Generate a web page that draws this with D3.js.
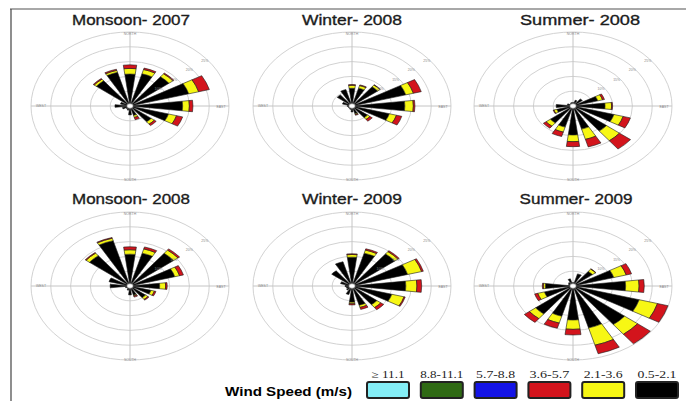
<!DOCTYPE html>
<html>
<head>
<meta charset="utf-8">
<script src="https://cdn.jsdelivr.net/npm/d3@7"></script>
<style>
  body { margin: 0; background: #fff; }
  svg { display: block; }
</style>
</head>
<body>
<svg width="686" height="401"></svg>
<script>
const w = 686;
const h = 401;

// compass sectors, clockwise from north
const directions = ["N", "NNE", "NE", "ENE", "E", "ESE", "SE", "SSE",
                    "S", "SSW", "SW", "WSW", "W", "WNW", "NW", "NNW"];

// legend order (high to low), petal stacking goes the other way
const speedBins = ["\u2265 11.1", "8.8-11.1", "5.7-8.8", "3.6-5.7", "2.1-3.6", "0.5-2.1"];
const binColors = ["#84eef6", "#2f6a14", "#1414e6", "#d3141c", "#f7f714", "#000000"];

const titles = ["Monsoon- 2007", "Winter- 2008", "Summer- 2008",
                "Monsoon- 2008", "Winter- 2009", "Summer- 2009"];

const ringTicks = [5, 10, 15, 20, 25];

// frequency (%) per sector, rows: 0.5-2.1, 2.1-3.6, 3.6-5.7 m/s
const monsoon2007 = [
  [10.8, 11.3, 12.5, 15.4, 13.3, 10.1, 6.8, 3.3, 3.0, 1.5, 1.2, 2.0, 3.8, 2.5, 10.8, 11.8],
  [1.9, 1.5, 1.3, 2.6, 1.7, 2.1, 1.0, 0.7, 0, 0, 0, 0, 0, 0, 0.7, 0.7],
  [1.2, 0.5, 0.3, 2.8, 0.9, 1.6, 0.6, 0.8, 0, 0, 0, 0, 0, 0, 0.3, 0.4]
];
const winter2008 = [
  [6.0, 6.25, 8.25, 14.1, 13.35, 9.8, 5.0, 2.75, 2.0, 1.2, 1.0, 1.0, 1.2, 2.5, 4.75, 5.75],
  [1.0, 0.9, 0.75, 2.0, 2.15, 1.85, 0.75, 0.25, 0, 0, 0, 0, 0, 0, 0, 0],
  [0.25, 0.25, 0.1, 2.05, 0.4, 1.4, 0.75, 0.25, 0, 0, 0, 0, 0, 0, 0, 0]
];
const summer2008 = [
  [1.2, 2.0, 3.0, 6.5, 8.1, 10.75, 10.75, 8.1, 9.8, 7.4, 7.25, 4.25, 4.25, 1.5, 1.0, 1.2],
  [0, 0, 0, 1.25, 1.65, 2.4, 4.15, 3.6, 2.25, 1.75, 1.4, 0.75, 0, 0, 0, 0],
  [0, 0, 0, 0.5, 0.25, 1.9, 3.55, 2.65, 1.7, 1.55, 0.85, 0.2, 0, 0, 0, 0]
];
const monsoon2008 = [
  [10.75, 11.5, 14.0, 11.75, 7.5, 5.5, 5.0, 3.25, 3.0, 1.5, 1.0, 1.2, 5.0, 5.5, 13.0, 15.9],
  [1.5, 1.5, 1.4, 1.25, 1.5, 0.9, 0.75, 0.25, 0, 0, 0, 0, 0, 0, 1.1, 0.85],
  [1.0, 0.7, 0.5, 1.0, 0.4, 0.4, 0.3, 0.4, 0, 0, 0, 0, 0, 0, 0.25, 0.25]
];
const winter2009 = [
  [9.75, 11.5, 13.75, 14.6, 13.6, 10.45, 8.0, 6.75, 5.5, 3.0, 1.75, 1.5, 1.75, 3.0, 6.5, 8.5],
  [0.9, 1.1, 1.0, 3.65, 2.8, 3.2, 1.25, 0.75, 0.5, 0, 0, 0, 0, 0, 0, 0],
  [0.25, 0.45, 0.4, 0.45, 1.2, 0.3, 0.9, 0.7, 0.4, 0, 0, 0, 0, 0, 0, 0]
];
const summer2009 = [
  [1.2, 4.25, 6.25, 10.7, 13.3, 17.35, 16.55, 14.7, 11.5, 10.6, 12.0, 7.5, 7.0, 1.2, 1.5, 2.5],
  [0, 0, 1.0, 3.25, 3.4, 4.8, 4.15, 6.05, 3.15, 2.4, 2.0, 1.75, 0.5, 0, 0, 0],
  [0, 0, 0.1, 1.4, 1.3, 2.75, 4.1, 3.0, 1.9, 1.8, 1.6, 0.8, 0.25, 0, 0, 0]
];

const panels = [monsoon2007, winter2008, summer2008, monsoon2008, winter2009, summer2009];

// layout
const centersX = [130, 352, 573];
const centersY = [106, 286];
const titleX = [131, 352, 580, 131, 352, 576];
const titleW = [118, 100, 120, 118, 100, 113];
const binLabelW = [33, 43, 39, 40, 39, 39];
const rx = 99;
const ry = 74;
const halfWidth = 7 * Math.PI / 180;

const svg = d3.select("svg");

// frame
svg.append("line").attr("x1", 10).attr("x2", w).attr("y1", 9).attr("y2", 9)
  .attr("stroke", "#a8a8a8").attr("stroke-width", 2);
svg.append("line").attr("x1", 11).attr("x2", 11).attr("y1", 9).attr("y2", h)
  .attr("stroke", "#444").attr("stroke-width", 1.2);

const r = d3.scaleLinear().domain([0, 25]).range([0, rx]);
const angle = d3.scaleBand().domain(directions).range([0, 2 * Math.PI]);
const petalColors = binColors.slice().reverse(); // black, yellow, red, ...

const arc = d3.arc()
  .innerRadius(d => r(d.y0))
  .outerRadius(d => r(d.y1))
  .startAngle(d => angle(d.dir) - halfWidth)
  .endAngle(d => angle(d.dir) + halfWidth);

panels.forEach((rows, i) => {
  const cx = centersX[i % 3];
  const cy = centersY[Math.floor(i / 3)];
  const g = svg.append("g").attr("transform", `translate(${cx},${cy})`);
  const plot = g.append("g").attr("transform", `scale(1, ${ry / rx})`);

  // rings and axes
  plot.selectAll("circle.ring")
    .data(ringTicks)
    .enter()
    .append("circle")
    .attr("class", "ring")
    .attr("r", d => r(d))
    .attr("fill", "none")
    .attr("stroke", "#d2d2d2")
    .attr("stroke-width", 1)
    .attr("vector-effect", "non-scaling-stroke");

  plot.append("line").attr("x1", -rx).attr("x2", rx)
    .attr("stroke", "#c4c4c4").attr("vector-effect", "non-scaling-stroke");
  plot.append("line").attr("y1", -rx).attr("y2", rx)
    .attr("stroke", "#c4c4c4").attr("vector-effect", "non-scaling-stroke");

  // ring labels along ~NE
  g.selectAll("text.ring")
    .data(ringTicks.slice(1))
    .enter()
    .append("text")
    .attr("class", "ring")
    .attr("x", d => d3.pointRadial(52 * Math.PI / 180, r(d) - 4)[0])
    .attr("y", d => d3.pointRadial(52 * Math.PI / 180, r(d) - 4)[1] * ry / rx)
    .attr("text-anchor", "middle")
    .attr("font-family", "Liberation Sans, Arial, sans-serif")
    .attr("font-size", 3.5)
    .attr("fill", "#888")
    .text(d => d + "%");

  // compass labels
  const compass = [
    { t: "NORTH", x: 0, y: -ry + 3 },
    { t: "SOUTH", x: 0, y: ry + 1 },
    { t: "WEST", x: -rx + 10, y: 1 },
    { t: "EAST", x: rx - 8, y: 2 }
  ];
  g.selectAll("text.compass")
    .data(compass)
    .enter()
    .append("text")
    .attr("class", "compass")
    .attr("x", d => d.x)
    .attr("y", d => d.y)
    .attr("text-anchor", "middle")
    .attr("font-family", "Liberation Sans, Arial, sans-serif")
    .attr("font-size", 3.5)
    .attr("fill", "#888")
    .text(d => d.t);

  // stacked petals
  const segs = [];
  directions.forEach((dir, k) => {
    let acc = 0;
    rows.forEach((row, b) => {
      const v = row[k];
      if (v > 0) segs.push({ dir: dir, y0: acc, y1: acc + v, bin: b });
      acc += v;
    });
  });

  plot.selectAll("path.petal")
    .data(segs)
    .enter()
    .append("path")
    .attr("class", "petal")
    .attr("d", arc)
    .attr("fill", d => petalColors[d.bin])
    .attr("stroke", "#1a1a1a")
    .attr("stroke-width", 0.6)
    .attr("vector-effect", "non-scaling-stroke");

  plot.append("circle").attr("r", 3.2)
    .attr("fill", "#fff").attr("stroke", "#555").attr("stroke-width", 0.6)
    .attr("vector-effect", "non-scaling-stroke");

  svg.append("text")
    .attr("x", titleX[i])
    .attr("y", i < 3 ? 25 : 204)
    .attr("text-anchor", "middle")
    .attr("font-family", "Liberation Sans, Arial, sans-serif")
    .attr("font-size", 15)
    .attr("fill", "#1c1c1c")
    .attr("stroke", "#1c1c1c")
    .attr("stroke-width", 0.35)
    .attr("textLength", titleW[i])
    .attr("lengthAdjust", "spacingAndGlyphs")
    .text(titles[i]);
});

// legend
const legend = svg.append("g").attr("id", "legend");

legend.append("text")
  .attr("x", 225)
  .attr("y", 396)
  .attr("font-family", "Liberation Sans, Arial, sans-serif")
  .attr("font-weight", "bold")
  .attr("font-size", 13)
  .attr("textLength", 127)
  .attr("lengthAdjust", "spacingAndGlyphs")
  .text("Wind Speed (m/s)");

const lx = d3.scalePoint().domain(speedBins).range([388, 657]);

legend.selectAll("rect")
  .data(speedBins)
  .enter()
  .append("rect")
  .attr("x", d => lx(d) - 21)
  .attr("y", 382)
  .attr("width", 42)
  .attr("height", 16)
  .attr("rx", 2)
  .attr("fill", (d, i) => binColors[i])
  .attr("stroke", "#222")
  .attr("stroke-width", 2);

legend.selectAll("text.bin")
  .data(speedBins)
  .enter()
  .append("text")
  .attr("class", "bin")
  .attr("x", d => lx(d))
  .attr("y", 378)
  .attr("text-anchor", "middle")
  .attr("font-family", "Liberation Serif, Times New Roman, serif")
  .attr("font-size", 10)
  .attr("fill", "#222")
  .attr("textLength", (d, i) => binLabelW[i])
  .attr("lengthAdjust", "spacingAndGlyphs")
  .text(d => d);
</script>
</body>
</html>
